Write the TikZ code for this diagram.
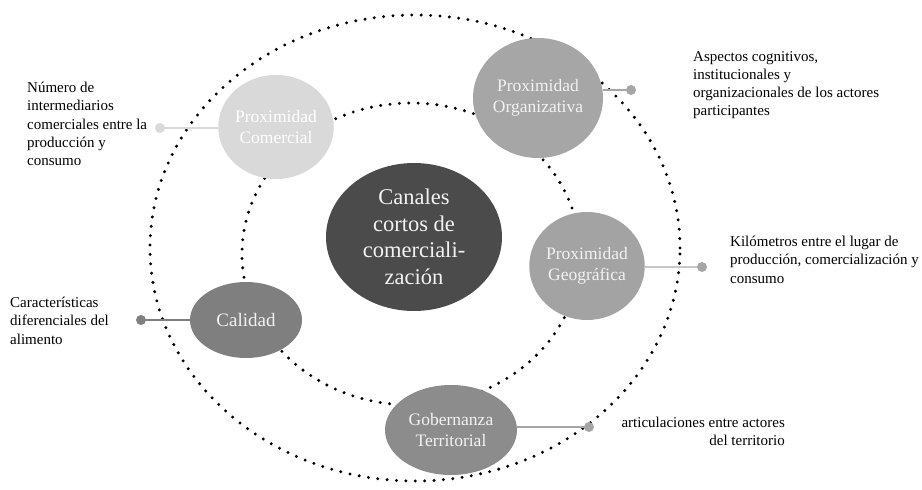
\documentclass[tikz,border=0pt]{standalone}
\usepackage{fontspec}
\setmainfont{Liberation Serif}
\usetikzlibrary{shapes.geometric}
\definecolor{cCom}{HTML}{D9D9D9}
\definecolor{cOrg}{HTML}{A6A6A6}
\definecolor{cGeo}{HTML}{A3A3A3}
\definecolor{cCal}{HTML}{7F7F7F}
\definecolor{cGob}{HTML}{8C8C8C}
\definecolor{cCen}{HTML}{4B4B4B}
\definecolor{cTxt}{HTML}{F2F2F2}
\begin{document}
\begin{tikzpicture}[x=1pt,y=-1pt,
  dotring/.style={draw=black, line width=3.3pt, line cap=round, dash pattern=on 0pt off 9.4pt},
  bub/.style={ellipse, inner sep=0pt, draw=none, text=cTxt, align=center,
    font=\fontsize{17.5}{21.5}\selectfont},
  pin/.style={circle, inner sep=0pt, minimum size=10pt, draw=none},
  lead/.style={line width=1.3pt},
  note/.style={inner sep=0pt, text=black, font=\fontsize{15}{18.2}\selectfont}
]
\useasboundingbox (0,0) rectangle (922,490);
\fill[white] (0,0) rectangle (922,490);

% dotted rings
\draw[dotring] (411,254) ellipse [x radius=169pt, y radius=151pt];
\draw[dotring] (415,248) ellipse [x radius=265pt, y radius=233pt];

% nodes
\node[bub, fill=cCen, minimum width=176pt, minimum height=148pt,
  font=\fontsize{22.5}{26.5}\selectfont] (cen) at (414,237) {Canales\\cortos de\\comerciali-\\zación};
\node[bub, fill=cCom, text=white, minimum width=114pt, minimum height=104pt] (com) at (276,127) {Proximidad\\Comercial};
\node[bub, fill=cOrg, minimum width=130pt, minimum height=120pt] (org) at (538,98) {Proximidad\\Organizativa};
\node[bub, fill=cGeo, minimum width=110pt, minimum height=108pt] (geo) at (587,266) {Proximidad\\Geográfica};
\node[bub, fill=cCal, minimum width=112pt, minimum height=76pt,
  font=\fontsize{19}{22}\selectfont] (cal) at (246,320) {Calidad};
\node[bub, fill=cGob, minimum width=132pt, minimum height=90pt] (gob) at (451,430) {Gobernanza\\Territorial};

% pins
\node[pin, fill=cCom] (pcom) at (160,128) {};
\node[pin, fill=cOrg] (porg) at (631,90) {};
\node[pin, fill=cOrg] (pgeo) at (702,267) {};
\node[pin, fill=cCal] (pcal) at (141,320) {};
\node[pin, fill=cOrg] (pgob) at (589,427) {};

% leads
\draw[lead, draw=cCom] (com.west |- pcom) -- (pcom);
\draw[lead, draw=cOrg] (org.east |- porg) -- (porg);
\draw[lead, draw=cCom!80!gray] (geo.east |- pgeo) -- (pgeo);
\draw[lead, draw=cCal] (cal.west) -- (pcal);
\draw[lead, draw=cOrg] (gob.east |- pgob) -- (pgob);

% notes
\node[note, anchor=north west, align=left] (tcom) at (27,82)
  {Número de\\intermediarios\\comerciales entre la\\producción y\\consumo};
\node[note, anchor=north west, align=left] (torg) at (693,51)
  {Aspectos cognitivos,\\institucionales y\\organizacionales de los actores\\participantes};
\node[note, anchor=north west, align=left] (tgeo) at (730,236)
  {Kilómetros entre el lugar de\\producción, comercialización y\\consumo};
\node[note, anchor=north west, align=left] (tcal) at (10,297)
  {Características\\diferenciales del\\alimento};
\node[note, anchor=north east, align=right] (tgob) at (785,417)
  {articulaciones entre actores\\del territorio};
\end{tikzpicture}
\end{document}
